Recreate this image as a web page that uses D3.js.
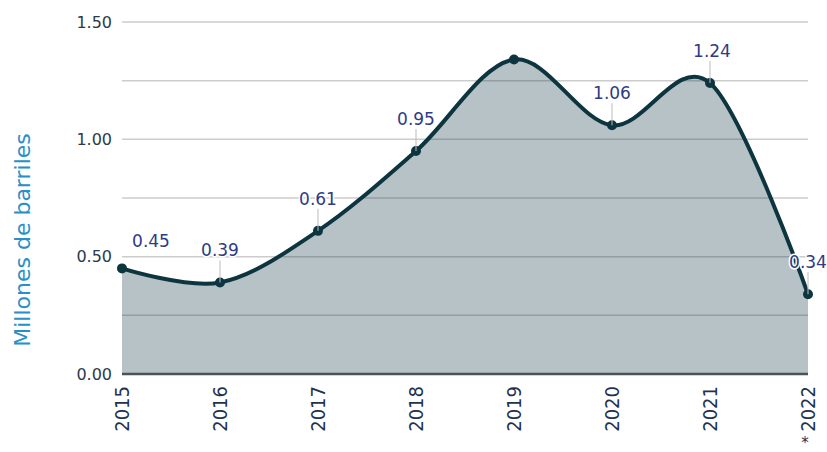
<!DOCTYPE html>
<html lang="es">
<head>
  <meta charset="utf-8">
  <title>Millones de barriles</title>
  <script src="https://d3js.org/d3.v7.min.js"></script>
  <style>
    body { margin: 0; background: #fff; }
    svg { display: block; font-family: "DejaVu Sans", Verdana, sans-serif; }
  </style>
</head>
<body>
  <svg id="chart" width="827" height="452"></svg>
  <script>
    // data
    const years = ["2015", "2016", "2017", "2018", "2019", "2020", "2021", "2022"];
    const values = [0.45, 0.39, 0.61, 0.95, 1.34, 1.06, 1.24, 0.34];
    const showLabel = [true, true, true, true, false, true, true, true];
    const gridTicks = [0, 0.25, 0.5, 0.75, 1, 1.25, 1.5];
    const labelTicks = [0, 0.5, 1, 1.5];

    const width = 827, height = 452;
    const margin = { top: 22, right: 19, bottom: 78, left: 122 };
    const lineColor = "#0d3540";

    const svg = d3.select("#chart");

    const x = d3.scalePoint()
      .domain(years)
      .range([margin.left, width - margin.right]);

    const y = d3.scaleLinear()
      .domain([0, 1.5])
      .range([height - margin.bottom, margin.top]);

    const rows = years.map((yr, i) => ({ year: yr, value: values[i], label: showLabel[i] }));

    const line = d3.line()
      .x(d => x(d.year))
      .y(d => y(d.value))
      .curve(d3.curveCardinal.tension(0));

    const area = d3.area()
      .x(d => x(d.year))
      .y0(y(0))
      .y1(d => y(d.value))
      .curve(d3.curveCardinal.tension(0));

    // grid
    svg.append("g")
      .selectAll("line")
      .data(gridTicks)
      .join("line")
      .attr("x1", margin.left)
      .attr("x2", width - margin.right)
      .attr("y1", d => y(d))
      .attr("y2", d => y(d))
      .style("stroke", "#cccccc")
      .style("stroke-width", "1.5px");

    // area + line
    svg.append("path")
      .attr("d", area(rows))
      .style("fill", lineColor)
      .style("fill-opacity", 0.3);

    svg.append("path")
      .attr("d", line(rows))
      .style("fill", "none")
      .style("stroke", lineColor)
      .style("stroke-width", "4px");

    // baseline
    svg.append("line")
      .attr("x1", margin.left)
      .attr("x2", width - margin.right)
      .attr("y1", y(0))
      .attr("y2", y(0))
      .style("stroke", "#4a5358")
      .style("stroke-width", "2.5px");

    // y tick labels
    svg.append("g")
      .selectAll("text")
      .data(labelTicks)
      .join("text")
      .attr("x", margin.left - 10)
      .attr("y", d => y(d))
      .attr("dy", "0.35em")
      .attr("text-anchor", "end")
      .style("font-size", "16px")
      .style("fill", "#2b3a4c")
      .text(d => d3.format(".2f")(d));

    // x tick labels (rotated, narrow face)
    svg.append("g")
      .selectAll("text")
      .data(years)
      .join("text")
      .attr("transform", d => `translate(${x(d)},${y(0) + 12}) rotate(-90)`)
      .attr("dy", "0.36em")
      .attr("text-anchor", "end")
      .style("font-family", "'Liberation Sans Narrow', 'DejaVu Sans Condensed', sans-serif")
      .style("font-stretch", "condensed")
      .style("font-size", "20px")
      .style("fill", "#1f3350")
      .text(d => d);

    svg.append("text")
      .attr("x", x("2022") - 3)
      .attr("y", height - 4)
      .attr("text-anchor", "middle")
      .style("font-size", "15px")
      .style("fill", "#1f3350")
      .text("*");

    // y axis title
    svg.append("text")
      .attr("transform", `translate(30,${(margin.top + y(0)) / 2 + 42}) rotate(-90)`)
      .attr("text-anchor", "middle")
      .style("font-size", "22px")
      .style("fill", "#2a8fc7")
      .text("Millones de barriles");

    // markers
    svg.append("g")
      .selectAll("circle")
      .data(rows)
      .join("circle")
      .attr("cx", d => x(d.year))
      .attr("cy", d => y(d.value))
      .attr("r", 5)
      .style("fill", lineColor);

    // data labels with connectors
    const labels = svg.append("g");
    rows.forEach((d, i) => {
      if (!d.label) return;
      const px = x(d.year), py = y(d.value);
      let lx = px, ly = py - 26;
      if (i === 0) { lx = px + 29; ly = py - 21; }
      if (i === rows.length - 2) lx = px + 2;
      if (i !== 0) {
        labels.append("line")
          .attr("x1", px).attr("x2", px)
          .attr("y1", ly + 4).attr("y2", py)
          .style("stroke", "#bbbbbb")
          .style("stroke-width", "1px");
      }
      labels.append("text")
        .attr("x", lx)
        .attr("y", ly)
        .attr("text-anchor", "middle")
        .style("font-size", "17px")
        .style("fill", "#2e3b86")
        .style("stroke", "#fff")
        .style("stroke-width", "3px")
        .style("stroke-linejoin", "round")
        .style("paint-order", "stroke")
        .text(d.value.toFixed(2));
    });
  </script>
</body>
</html>
